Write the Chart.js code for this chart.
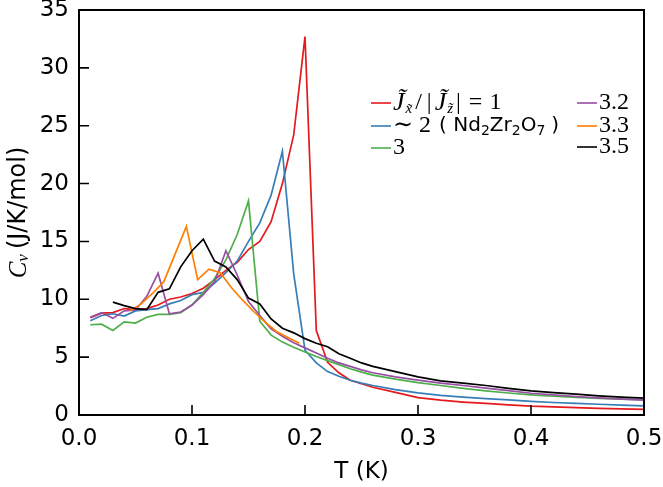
<!DOCTYPE html>
<html>
<head>
<meta charset="utf-8">
<script src="https://cdn.jsdelivr.net/npm/chart.js@4.4.0/dist/chart.umd.min.js"></script>
<style>
  html, body { margin: 0; padding: 0; background: #fff; }
  #wrap { width: 663px; height: 487px; }
</style>
</head>
<body>
<div id="wrap"><canvas id="cv"></canvas></div>
<script>
// ==========================
// Data
// ==========================
const temps = [0.01, 0.02, 0.03, 0.04, 0.05, 0.06, 0.07, 0.08, 0.09, 0.10,
               0.11, 0.12, 0.13, 0.14, 0.15, 0.16, 0.17, 0.18, 0.19, 0.20,
               0.21, 0.22, 0.23, 0.24, 0.25, 0.26, 0.28, 0.30, 0.32, 0.34,
               0.36, 0.38, 0.40, 0.42, 0.44, 0.46, 0.48, 0.50];
const orangeTemps = [0.045, 0.055, 0.065, 0.075, 0.085, 0.095, 0.105, 0.115,
                     0.125, 0.135, 0.145, 0.155, 0.165, 0.175, 0.185, 0.195];

const cvRatio1  = [8.4, 8.8, 8.85, 9.2, 9.1, 9.2, 9.5, 10.0, 10.2, 10.5,
                   10.95, 11.7, 12.5, 13.2, 14.3, 15.0, 16.7, 20.0, 24.2, 32.7,
                   7.3, 4.55, 3.65, 3.0, 2.7, 2.4, 1.95, 1.5, 1.28, 1.12,
                   1.0, 0.88, 0.76, 0.7, 0.64, 0.58, 0.53, 0.49];
const cvRatio2  = [8.15, 8.6, 8.75, 8.55, 9.0, 9.1, 9.2, 9.6, 9.9, 10.4,
                   10.6, 11.4, 12.3, 13.3, 15.0, 16.6, 19.0, 22.8, 12.2, 5.6,
                   4.5, 3.75, 3.35, 3.0, 2.75, 2.55, 2.2, 1.92, 1.7, 1.55,
                   1.42, 1.3, 1.17, 1.08, 1.0, 0.93, 0.86, 0.79];
const cvRatio3  = [7.8, 7.85, 7.3, 8.05, 7.95, 8.45, 8.7, 8.7, 8.85, 9.5,
                   10.6, 11.8, 13.4, 15.6, 18.5, 8.1, 6.9, 6.3, 5.85, 5.45,
                   5.05, 4.7, 4.35, 4.0, 3.7, 3.45, 3.1, 2.8, 2.55, 2.3,
                   2.08, 1.9, 1.74, 1.62, 1.52, 1.44, 1.37, 1.32];
const cvRatio32 = [8.45, 8.85, 8.35, 9.0, 9.07, 10.25, 12.25, 8.75, 8.9, 9.5,
                   10.4, 11.5, 14.2, 12.1, 9.8, 8.6, 7.45, 6.8, 6.25, 5.8,
                   5.35, 4.9, 4.5, 4.2, 3.9, 3.65, 3.3, 3.02, 2.75, 2.55,
                   2.32, 2.1, 1.88, 1.74, 1.6, 1.48, 1.38, 1.28];
const cvRatio33 = [9.0, 9.6, 10.5, 11.5, 13.9, 16.3, 11.7, 12.6,
                   12.3, 11.0, 9.9, 8.9, 8.0, 7.2, 6.7, 6.2];
const cvRatio35 = [null, null, 9.75, 9.45, 9.2, 9.1, 10.6, 10.9, 12.8, 14.2,
                   15.2, 13.3, 12.8, 11.7, 10.1, 9.6, 8.3, 7.5, 7.1, 6.6,
                   6.2, 5.9, 5.3, 4.9, 4.5, 4.2, 3.75, 3.3, 2.95, 2.75,
                   2.55, 2.3, 2.08, 1.93, 1.8, 1.65, 1.54, 1.45];

const xTicks = [0.0, 0.1, 0.2, 0.3, 0.4, 0.5];
const yTicks = [0, 5, 10, 15, 20, 25, 30, 35];

const seriesLabels = ["J/|J| = 1", "~2 (Nd2Zr2O7)", "3", "3.2", "3.3", "3.5"];
const seriesColors = ["#e41a1c", "#377eb8", "#4daf4a", "#984ea3", "#ff7f00", "#000000"];

// ==========================
// Build datasets
// ==========================
function toPoints(xs, ys) {
  return xs.map((t, i) => ({ x: t, y: ys[i] })).filter(p => p.y !== null);
}
const seriesPoints = [
  toPoints(temps, cvRatio1),
  toPoints(temps, cvRatio2),
  toPoints(temps, cvRatio3),
  toPoints(temps, cvRatio32),
  toPoints(orangeTemps, cvRatio33),
  toPoints(temps, cvRatio35)
];
const datasets = seriesPoints.map((pts, i) => ({
  label: seriesLabels[i],
  data: pts,
  borderColor: seriesColors[i],
  backgroundColor: seriesColors[i],
  borderWidth: 1.7,
  pointRadius: 0,
  tension: 0,
  order: seriesPoints.length - i
}));

// ==========================
// Rich text helper
// ==========================
const SERIF = '"Liberation Serif", "DejaVu Serif", serif';
const SANS = '"DejaVu Sans", sans-serif';
function drawRuns(ctx, x, y, runs) {
  runs.forEach(r => {
    ctx.font = r.font;
    ctx.fillText(r.text, x, y + (r.dy || 0));
    x += ctx.measureText(r.text).width + (r.gap || 0);
  });
  return x;
}
function runsWidth(ctx, runs) {
  let w = 0;
  runs.forEach(r => { ctx.font = r.font; w += ctx.measureText(r.text).width + (r.gap || 0); });
  return w;
}

const legendRuns = [
  [ { text: "J\u0303", font: "italic 26px " + SERIF, gap: 1 },
    { text: "x\u0303", font: "italic 15px " + SERIF, dy: 6, gap: 3 },
    { text: "/", font: "24px " + SERIF, gap: 5 },
    { text: "|", font: "24px " + SERIF, gap: 3 },
    { text: "J\u0303", font: "italic 26px " + SERIF, gap: 1 },
    { text: "z\u0303", font: "italic 15px " + SERIF, dy: 6, gap: 3 },
    { text: "|", font: "24px " + SERIF, gap: 8 },
    { text: "=", font: "24px " + SERIF, gap: 7 },
    { text: "1", font: "24px " + SERIF } ],
  [ { text: "\u223C", font: "24px " + SERIF, gap: 6 },
    { text: "2", font: "24px " + SERIF, gap: 8 },
    { text: "( Nd", font: "20px " + SANS },
    { text: "2", font: "14px " + SANS, dy: 5 },
    { text: "Zr", font: "20px " + SANS },
    { text: "2", font: "14px " + SANS, dy: 5 },
    { text: "O", font: "20px " + SANS },
    { text: "7", font: "14px " + SANS, dy: 5, gap: 6 },
    { text: ")", font: "20px " + SANS } ],
  [ { text: "3", font: "24px " + SERIF } ],
  [ { text: "3.2", font: "24px " + SERIF } ],
  [ { text: "3.3", font: "24px " + SERIF } ],
  [ { text: "3.5", font: "24px " + SERIF } ]
];
const legendPos = [
  { x: 371, y: 103 }, { x: 371, y: 126 }, { x: 371, y: 148 },
  { x: 577, y: 103 }, { x: 577, y: 126 }, { x: 577, y: 147 }
];

// ==========================
// Frame, inward ticks, titles, legend
// ==========================
const decorPlugin = {
  id: "decor",
  afterDatasetsDraw(chart) {
    const ctx = chart.ctx;
    const a = chart.chartArea;
    const xs = chart.scales.x, ys = chart.scales.y;
    ctx.save();
    ctx.strokeStyle = "#000";
    ctx.lineWidth = 2;
    ctx.strokeRect(a.left, a.top, a.right - a.left, a.bottom - a.top);

    // inward ticks
    ctx.lineWidth = 1.6;
    ctx.beginPath();
    xTicks.forEach(v => {
      const px = xs.getPixelForValue(v);
      ctx.moveTo(px, a.bottom);
      ctx.lineTo(px, a.bottom - 10);
    });
    yTicks.forEach(v => {
      const py = ys.getPixelForValue(v);
      ctx.moveTo(a.left, py);
      ctx.lineTo(a.left + 10, py);
    });
    ctx.stroke();

    // x title
    ctx.fillStyle = "#000";
    ctx.textAlign = "center";
    ctx.textBaseline = "middle";
    ctx.font = "23px " + SANS;
    ctx.fillText("T (K)", (a.left + a.right) / 2, 472);

    // y title (rotated)
    const yRuns = [
      { text: "C", font: "italic 25px " + SERIF },
      { text: "v", font: "italic 17px " + SERIF, dy: 5, gap: 5 },
      { text: "(J/K/mol)", font: "24px " + SANS }
    ];
    ctx.save();
    ctx.translate(19, (a.top + a.bottom) / 2);
    ctx.rotate(-Math.PI / 2);
    ctx.textAlign = "left";
    const w = runsWidth(ctx, yRuns);
    drawRuns(ctx, -w / 2, 0, yRuns);
    ctx.restore();

    // legend
    ctx.textAlign = "left";
    ctx.textBaseline = "middle";
    legendRuns.forEach((runs, i) => {
      const p = legendPos[i];
      ctx.strokeStyle = seriesColors[i];
      ctx.lineWidth = 1.6;
      ctx.beginPath();
      ctx.moveTo(p.x, p.y);
      ctx.lineTo(p.x + 20, p.y);
      ctx.stroke();
      ctx.fillStyle = "#000";
      drawRuns(ctx, p.x + 22, p.y, runs);
    });
    ctx.restore();
  }
};

// ==========================
// Chart
// ==========================
const tickFont = { family: "DejaVu Sans", size: 23 };
new Chart(document.getElementById("cv"), {
  type: "line",
  data: { datasets: datasets },
  options: {
    responsive: true,
    maintainAspectRatio: false,
    animation: false,
    layout: { padding: { top: 10, right: 19, left: 0, bottom: 0 } },
    plugins: { legend: { display: false }, tooltip: { enabled: false } },
    scales: {
      x: {
        type: "linear",
        min: 0,
        max: 0.5,
        afterFit: s => { s.height = 72; s.paddingLeft = 0; s.paddingRight = 0; },
        afterBuildTicks: s => { s.ticks = xTicks.map(v => ({ value: v })); },
        grid: { display: false, drawTicks: false },
        border: { display: false },
        ticks: { font: tickFont, color: "#000", padding: 10, maxRotation: 0,
                 callback: v => v.toFixed(1) }
      },
      y: {
        min: 0,
        max: 35,
        afterFit: s => { s.width = 79; s.paddingTop = 0; s.paddingBottom = 0; },
        afterBuildTicks: s => { s.ticks = yTicks.map(v => ({ value: v })); },
        grid: { display: false, drawTicks: false },
        border: { display: false },
        ticks: { font: tickFont, color: "#000", padding: 10,
                 callback: v => String(v) }
      }
    }
  },
  plugins: [decorPlugin]
});
</script>
</body>
</html>
